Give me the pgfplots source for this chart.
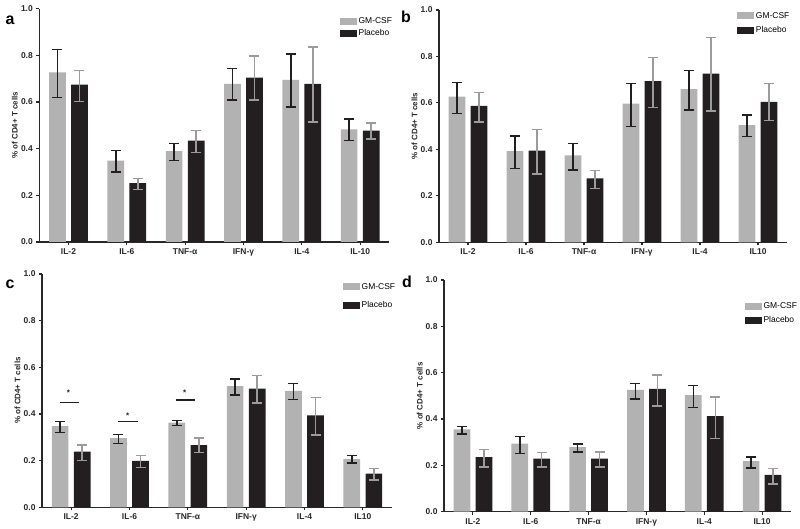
\documentclass[border=0pt]{standalone}
\usepackage{pgfplots}
\pgfplotsset{compat=1.18}
\usepackage{fontspec}
\setmainfont{Liberation Sans}
\definecolor{gmgray}{RGB}{178,178,178}
\definecolor{pbblack}{RGB}{35,31,32}
\definecolor{errgray}{RGB}{155,155,155}
\definecolor{axcol}{RGB}{40,40,40}
\pgfplotsset{
  panel/.style={
    scale only axis, anchor=south west,
    xmin=-0.5, xmax=5.5, ymin=0, ymax=1,
    axis x line*=bottom, axis y line*=left,
    axis line style={axcol, line width=1.3bp},
    every tick/.style={axcol, line width=1.1bp},
    tick align=outside, major tick length=3bp,
    xtick={0,1,2,3,4,5}, ytick={0,0.2,0.4,0.6,0.8,1.0},
    yticklabels={0.0,0.2,0.4,0.6,0.8,1.0},
    /pgf/number format/assume math mode=true,
    ticklabel style={font=\bfseries\fontsize{8.5}{10}\selectfont, text=axcol},
    ylabel={\% of CD4+ T cells},
    ylabel style={font=\bfseries\fontsize{8}{9}\selectfont, text=axcol, at={(axis description cs:-0.07,0.5)}, anchor=center},
    legend cell align=left,
    legend style={draw=none, fill=none, font=\fontsize{8.5}{10}\selectfont, anchor=north west, inner sep=0pt, nodes={inner sep=1.5bp}},
    clip=false,
  },
  gm/.style={ybar, bar width=16.7bp, bar shift=0pt, fill=gmgray, draw=none,
    legend image code/.code={\fill[gmgray] (0bp,-3.5bp) rectangle (17bp,3.5bp);},
    error bars/.cd, y dir=both, y explicit,
    error bar style={pbblack, line width=1.5bp},
    error mark options={rotate=90, pbblack, line width=1.5bp, mark size=5bp}},
  pb/.style={ybar, bar width=16.7bp, bar shift=0pt, fill=pbblack, draw=none,
    legend image code/.code={\fill[pbblack] (0bp,-3.5bp) rectangle (17bp,3.5bp);},
    error bars/.cd, y dir=both, y explicit,
    error bar style={errgray, line width=1.5bp},
    error mark options={rotate=90, errgray, line width=1.5bp, mark size=5bp}},
}
\begin{document}
\begin{tikzpicture}[x=1bp,y=1bp]
\useasboundingbox (0,0) rectangle (800,529);

% ---------- panel a ----------
\begin{axis}[panel, at={(39.3bp,287bp)}, width=350bp, height=233.3bp,
  xticklabels={IL-2,IL-6,TNF-α,IFN-γ,IL-4,IL-10},
  legend style={at={(axis description cs:0.859,0.968)}, row sep=1bp}]
\addplot[gm] coordinates {
 (-0.189,0.727) += (0,0.098) -= (0,0.107)
 (0.811,0.349) += (0,0.043) -= (0,0.050)
 (1.811,0.389) += (0,0.034) -= (0,0.040)
 (2.811,0.678) += (0,0.066) -= (0,0.070)
 (3.811,0.695) += (0,0.111) -= (0,0.117)
 (4.811,0.483) += (0,0.045) -= (0,0.049)};
\addlegendentry{GM-CSF}
\addplot[pb] coordinates {
 (0.189,0.674) += (0,0.062) -= (0,0.071)
 (1.189,0.252) += (0,0.020) -= (0,0.026)
 (2.189,0.434) += (0,0.043) -= (0,0.051)
 (3.189,0.705) += (0,0.093) -= (0,0.097)
 (4.189,0.678) += (0,0.158) -= (0,0.164)
 (5.189,0.477) += (0,0.034) -= (0,0.035)};
\addlegendentry{Placebo}
\end{axis}

% ---------- panel b ----------
\begin{axis}[panel, at={(439bp,286.7bp)}, width=348bp, height=232.3bp,
  xticklabels={IL-2,IL-6,TNF-α,IFN-γ,IL-4,IL10},
  legend style={at={(axis description cs:0.857,0.998)}, row sep=4bp}]
\addplot[gm] coordinates {
 (-0.189,0.627) += (0,0.060) -= (0,0.072)
 (0.811,0.392) += (0,0.066) -= (0,0.075)
 (1.811,0.374) += (0,0.052) -= (0,0.063)
 (2.811,0.597) += (0,0.087) -= (0,0.099)
 (3.811,0.659) += (0,0.080) -= (0,0.089)
 (4.811,0.504) += (0,0.043) -= (0,0.049)};
\addlegendentry{GM-CSF}
\addplot[pb] coordinates {
 (0.189,0.587) += (0,0.057) -= (0,0.069)
 (1.189,0.395) += (0,0.091) -= (0,0.101)
 (2.189,0.275) += (0,0.035) -= (0,0.044)
 (3.189,0.694) += (0,0.102) -= (0,0.113)
 (4.189,0.726) += (0,0.155) -= (0,0.160)
 (5.189,0.604) += (0,0.080) -= (0,0.080)};
\addlegendentry{Placebo}
\end{axis}

% ---------- panel c ----------
\begin{axis}[panel, at={(42bp,21.7bp)}, width=350bp, height=233.3bp,
  xticklabels={IL-2,IL-6,TNF-α,IFN-γ,IL-4,IL10},
  legend style={at={(axis description cs:0.86,0.968)}, row sep=8bp}]
\addplot[gm] coordinates {
 (-0.189,0.348) += (0,0.019) -= (0,0.027)
 (0.811,0.296) += (0,0.017) -= (0,0.022)
 (1.811,0.363) += (0,0.010) -= (0,0.013)
 (2.811,0.519) += (0,0.030) -= (0,0.038)
 (3.811,0.499) += (0,0.031) -= (0,0.036)
 (4.811,0.207) += (0,0.014) -= (0,0.017)};
\addlegendentry{GM-CSF}
\addplot[pb] coordinates {
 (0.189,0.239) += (0,0.028) -= (0,0.038)
 (1.189,0.199) += (0,0.022) -= (0,0.029)
 (2.189,0.267) += (0,0.029) -= (0,0.033)
 (3.189,0.509) += (0,0.055) -= (0,0.063)
 (4.189,0.394) += (0,0.077) -= (0,0.084)
 (5.189,0.144) += (0,0.023) -= (0,0.027)};
\addlegendentry{Placebo}
\addplot[pbblack, line width=1.2bp, forget plot] coordinates {(-0.194,0.449) (0.137,0.449)};
\addplot[pbblack, line width=1.2bp, forget plot] coordinates {(0.806,0.367) (1.149,0.367)};
\addplot[pbblack, line width=1.2bp, forget plot] coordinates {(1.790,0.460) (2.116,0.460)};
\node[font=\bfseries\fontsize{8}{9}\selectfont, text=pbblack] at (axis cs:-0.045,0.49) {*};
\node[font=\bfseries\fontsize{8}{9}\selectfont, text=pbblack] at (axis cs:0.967,0.394) {*};
\node[font=\bfseries\fontsize{8}{9}\selectfont, text=pbblack] at (axis cs:1.945,0.489) {*};
\end{axis}

% ---------- panel d ----------
\begin{axis}[panel, at={(444bp,17.3bp)}, width=347bp, height=231.7bp,
  xticklabels={IL-2,IL-6,TNF-α,IFN-γ,IL-4,IL10},
  legend style={at={(axis description cs:0.867,0.908)}, row sep=3bp}]
\addplot[gm] coordinates {
 (-0.19,0.355) += (0,0.012) -= (0,0.020)
 (0.81,0.294) += (0,0.030) -= (0,0.042)
 (1.81,0.279) += (0,0.013) -= (0,0.021)
 (2.81,0.526) += (0,0.027) -= (0,0.039)
 (3.81,0.503) += (0,0.041) -= (0,0.053)
 (4.81,0.218) += (0,0.017) -= (0,0.029)};
\addlegendentry{GM-CSF}
\addplot[pb] coordinates {
 (0.19,0.235) += (0,0.034) -= (0,0.043)
 (1.19,0.229) += (0,0.026) -= (0,0.037)
 (2.19,0.229) += (0,0.029) -= (0,0.037)
 (3.19,0.530) += (0,0.060) -= (0,0.074)
 (4.19,0.413) += (0,0.083) -= (0,0.098)
 (5.19,0.159) += (0,0.027) -= (0,0.039)};
\addlegendentry{Placebo}
\end{axis}

% panel letters
\node[font=\bfseries\fontsize{16}{18}\selectfont] at (10,509) {a};
\node[font=\bfseries\fontsize{16}{18}\selectfont] at (406,512) {b};
\node[font=\bfseries\fontsize{16}{18}\selectfont] at (10,245) {c};
\node[font=\bfseries\fontsize{16}{18}\selectfont] at (407,247) {d};
\end{tikzpicture}
\end{document}
